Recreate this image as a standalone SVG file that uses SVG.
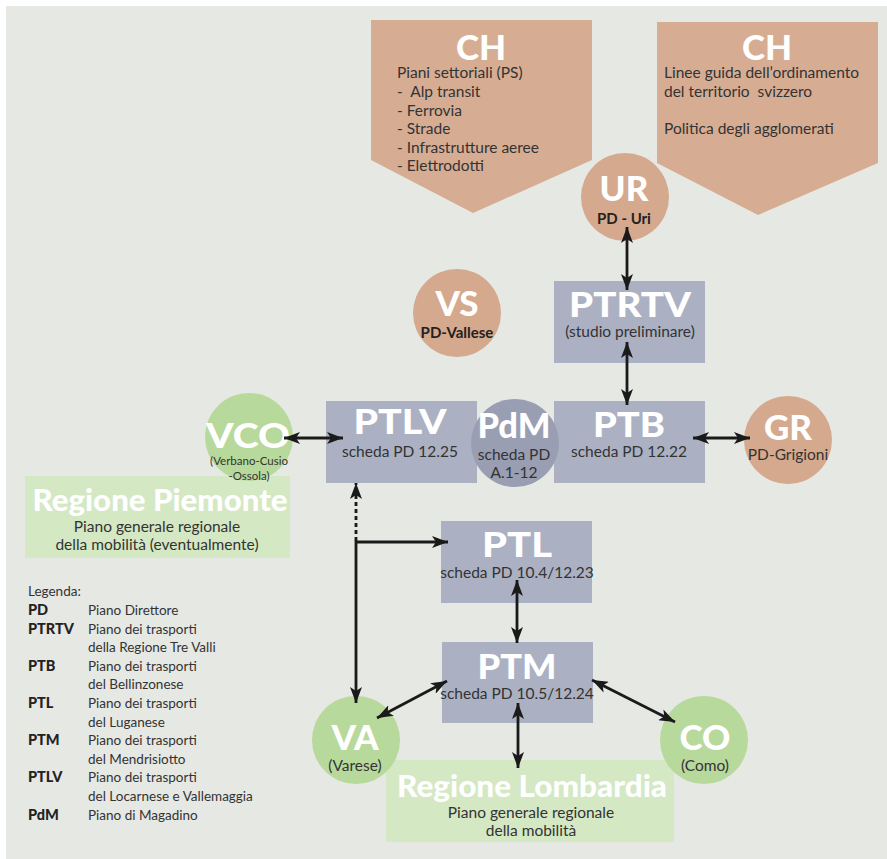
<svg xmlns="http://www.w3.org/2000/svg" width="887" height="859" viewBox="0 0 887 859">
<defs>
<style>
.bg{fill:#ffffff}
.panel{fill:#e6e8e3}
.ch{fill:#d6ad93}
.sal{fill:#d5a98d}
.blue{fill:#abb1c2}
.pdm{fill:#999eb2}
.grn{fill:#b7d99c}
.lgrn{fill:#d4e8c4}
text{font-family:"Lato","Open Sans","Liberation Sans",sans-serif}
.t{fill:#ffffff;font-weight:900;font-size:35px;text-anchor:middle}
.rt{fill:#ffffff;font-weight:900;font-size:30px;text-anchor:middle}
.s{fill:#333333;font-size:15.5px;text-anchor:middle}
.sb{fill:#222222;font-size:15px;font-weight:bold;text-anchor:middle}
.xs{fill:#333333;font-size:11.5px;text-anchor:middle}
.l{fill:#333333;font-size:15.5px}
.lg{fill:#333333;font-size:13.5px}
.lb{fill:#222222;font-size:14.5px;font-weight:900}
.c{fill:none;stroke:#1a1a1a;stroke-width:2.8}
.dot{stroke-dasharray:4 3}
</style>
<marker id="ah" viewBox="0 0 16 12" refX="16" refY="6" markerWidth="16" markerHeight="12" markerUnits="userSpaceOnUse" orient="auto-start-reverse">
<path d="M0,0 L16,6 L0,12 L4,6 Z" fill="#1a1a1a"/>
</marker>
</defs>
<rect class="bg" x="0" y="0" width="887" height="859"/>
<rect class="panel" x="6" y="6" width="881" height="853"/>

<g id="ch-ps">
<polygon class="ch" points="371,20 592,20 592,160 473,213 371,160"/>
<text class="t" x="481" y="60">CH</text>
<text class="l" x="397" y="78">Piani settoriali (PS)</text>
<text class="l" x="397" y="97">- &#160;Alp transit</text>
<text class="l" x="397" y="116">- Ferrovia</text>
<text class="l" x="397" y="134">- Strade</text>
<text class="l" x="397" y="153">- Infrastrutture aeree</text>
<text class="l" x="397" y="171">- Elettrodotti</text>
</g>

<g id="ch-linee">
<polygon class="ch" points="657,22 878,22 878,163 758,215 657,163"/>
<text class="t" x="767" y="60">CH</text>
<text class="l" x="664" y="78">Linee guida dell’ordinamento</text>
<text class="l" x="664" y="97">del territorio &#160;svizzero</text>
<text class="l" x="664" y="134">Politica degli agglomerati</text>
</g>

<g id="ur">
<circle class="sal" cx="625" cy="197" r="44"/>
<text class="t" x="624" y="201">UR</text>
<text class="sb" x="624" y="224">PD - Uri</text>
</g>

<g id="ptrtv">
<rect class="blue" x="554" y="281" width="151" height="82"/>
<text class="t" x="630" y="317" textLength="122" lengthAdjust="spacingAndGlyphs">PTRTV</text>
<text class="s" x="630" y="337">(studio preliminare)</text>
</g>

<g id="vs">
<circle class="sal" cx="457" cy="313" r="44"/>
<text class="t" x="457" y="316">VS</text>
<text class="sb" x="457" y="338">PD-Vallese</text>
</g>

<g id="ptlv">
<rect class="blue" x="326" y="401" width="151" height="82"/>
<text class="t" x="400" y="434" textLength="93" lengthAdjust="spacingAndGlyphs">PTLV</text>
<text class="s" x="400" y="457">scheda PD 12.25</text>
</g>

<g id="ptb">
<rect class="blue" x="554" y="401" width="151" height="82"/>
<text class="t" x="629" y="437" textLength="72" lengthAdjust="spacingAndGlyphs">PTB</text>
<text class="s" x="629" y="457">scheda PD 12.22</text>
</g>

<g id="pdm">
<circle class="pdm" cx="515" cy="443" r="44"/>
<text class="t" x="514" y="438" textLength="73" lengthAdjust="spacingAndGlyphs">PdM</text>
<text class="s" x="514" y="460">scheda PD</text>
<text class="s" x="514" y="478">A.1-12</text>
</g>

<g id="gr">
<circle class="sal" cx="788" cy="440" r="44"/>
<text class="t" x="788" y="440">GR</text>
<text class="s" x="788" y="460">PD-Grigioni</text>
</g>

<g id="piemonte">
<rect class="lgrn" x="25" y="476" width="265" height="82"/>
<text class="rt" x="160" y="511" textLength="255" lengthAdjust="spacingAndGlyphs">Regione Piemonte</text>
<text class="s" x="157" y="532">Piano generale regionale</text>
<text class="s" x="157" y="550">della mobilità (eventualmente)</text>
</g>

<g id="vco">
<circle class="grn" cx="249" cy="437" r="44"/>
<text class="t" x="248" y="448" textLength="84" lengthAdjust="spacingAndGlyphs">VCO</text>
<text class="xs" x="249" y="465">(Verbano-Cusio</text>
<text class="xs" x="249" y="480">-Ossola)</text>
</g>

<g id="ptl">
<rect class="blue" x="441" y="521" width="151" height="82"/>
<text class="t" x="517" y="557" textLength="70" lengthAdjust="spacingAndGlyphs">PTL</text>
<text class="s" x="517" y="578">scheda PD 10.4/12.23</text>
</g>

<g id="ptm">
<rect class="blue" x="442" y="642" width="151" height="81"/>
<text class="t" x="517" y="679" textLength="79" lengthAdjust="spacingAndGlyphs">PTM</text>
<text class="s" x="517" y="699">scheda PD 10.5/12.24</text>
</g>

<g id="lombardia">
<rect class="lgrn" x="386" y="760" width="288" height="82"/>
<text class="rt" x="532" y="797" textLength="270" lengthAdjust="spacingAndGlyphs">Regione Lombardia</text>
<text class="s" x="531" y="818">Piano generale regionale</text>
<text class="s" x="531" y="836">della mobilità</text>
</g>

<g id="va">
<circle class="grn" cx="356" cy="740" r="44"/>
<text class="t" x="355" y="750">VA</text>
<text class="s" x="355" y="771">(Varese)</text>
</g>

<g id="co">
<circle class="grn" cx="704" cy="740" r="44"/>
<text class="t" x="705" y="750">CO</text>
<text class="s" x="705" y="771">(Como)</text>
</g>

<g id="connectors">
<line class="c" x1="627" y1="227" x2="627" y2="290" marker-start="url(#ah)" marker-end="url(#ah)"/>
<line class="c" x1="627" y1="342" x2="627" y2="405" marker-start="url(#ah)" marker-end="url(#ah)"/>
<line class="c" x1="284" y1="438" x2="343" y2="438" marker-start="url(#ah)" marker-end="url(#ah)"/>
<line class="c" x1="693" y1="438" x2="750" y2="438" marker-start="url(#ah)" marker-end="url(#ah)"/>
<path class="c dot" d="M356,541 L356,483" marker-end="url(#ah)"/>
<path class="c" d="M448,542 L356,542 L356,703" marker-start="url(#ah)" marker-end="url(#ah)"/>
<line class="c" x1="517" y1="580" x2="517" y2="643" marker-start="url(#ah)" marker-end="url(#ah)"/>
<line class="c" x1="377" y1="718" x2="447" y2="681" marker-start="url(#ah)" marker-end="url(#ah)"/>
<line class="c" x1="592" y1="680" x2="675" y2="722" marker-start="url(#ah)" marker-end="url(#ah)"/>
<line class="c" x1="518" y1="703" x2="518" y2="768" marker-start="url(#ah)" marker-end="url(#ah)"/>
</g>

<g id="legenda">
<text class="lg" x="28" y="596">Legenda:</text>
<text class="lb" x="28" y="615">PD</text><text class="lg" x="88" y="615">Piano Direttore</text>
<text class="lb" x="28" y="634">PTRTV</text><text class="lg" x="88" y="634">Piano dei trasporti</text>
<text class="lg" x="88" y="652">della Regione Tre Valli</text>
<text class="lb" x="28" y="671">PTB</text><text class="lg" x="88" y="671">Piano dei trasporti</text>
<text class="lg" x="88" y="689">del Bellinzonese</text>
<text class="lb" x="28" y="708">PTL</text><text class="lg" x="88" y="708">Piano dei trasporti</text>
<text class="lg" x="88" y="727">del Luganese</text>
<text class="lb" x="28" y="745">PTM</text><text class="lg" x="88" y="745">Piano dei trasporti</text>
<text class="lg" x="88" y="764">del Mendrisiotto</text>
<text class="lb" x="28" y="782">PTLV</text><text class="lg" x="88" y="782">Piano dei trasporti</text>
<text class="lg" x="88" y="801">del Locarnese e Vallemaggia</text>
<text class="lb" x="28" y="820">PdM</text><text class="lg" x="88" y="820">Piano di Magadino</text>
</g>
</svg>
